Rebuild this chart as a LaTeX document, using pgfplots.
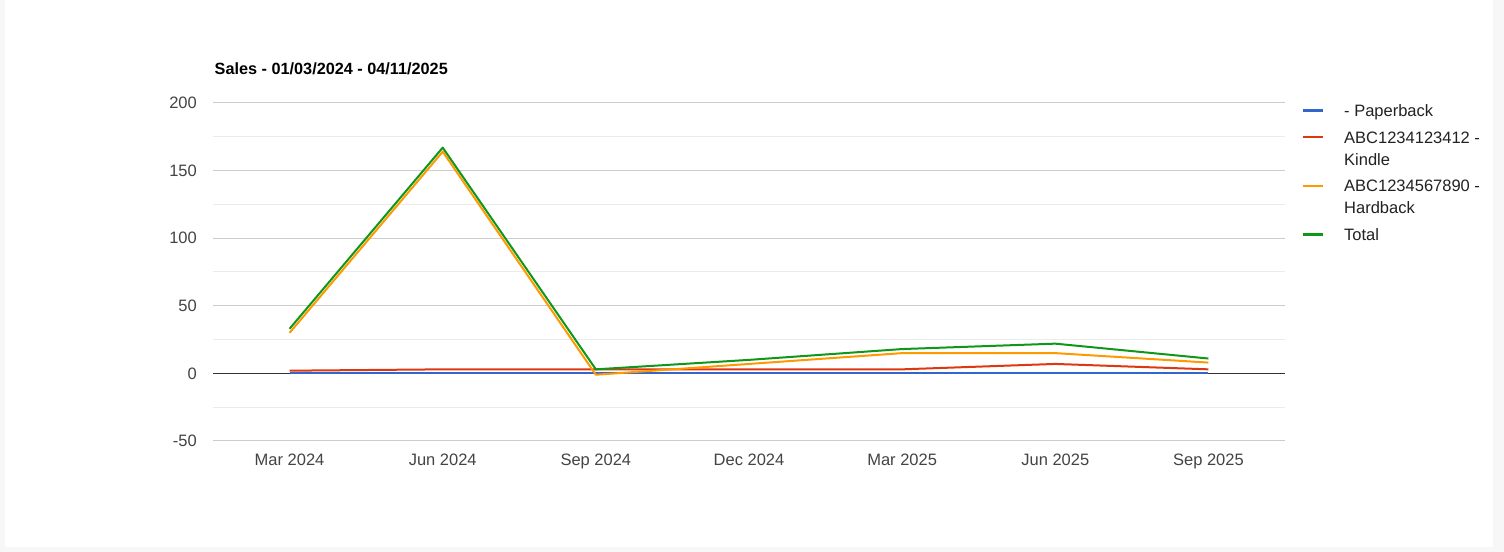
\documentclass[border=0pt]{standalone}
\usepackage{pgfplots}
\pgfplotsset{compat=1.18}
\usepackage{fontspec}
\setmainfont{Liberation Sans}
\definecolor{cblue}{HTML}{3366CC}
\definecolor{cred}{HTML}{DC3912}
\definecolor{corange}{HTML}{FF9900}
\definecolor{cgreen}{HTML}{109618}
\definecolor{gridmajor}{HTML}{CCCCCC}
\definecolor{gridminor}{HTML}{EBEBEB}
\definecolor{zeroline}{HTML}{333333}
\definecolor{ticktext}{HTML}{444444}
\definecolor{legtext}{HTML}{222222}
\definecolor{edge}{HTML}{F7F7F7}
\newcommand{\strutO}{\rule{0pt}{15.4bp}}
\newcommand{\strutA}{\rule{0pt}{20.5bp}}
\newcommand{\strutB}{\rule{0pt}{25.2bp}}
\begin{document}
\begin{tikzpicture}
\fill[edge] (0,0) rectangle (1504bp,552bp);
\fill[white] (5bp,5bp) rectangle (1493bp,552bp);
\begin{axis}[
  at={(213bp,111bp)}, anchor=south west,
  scale only axis, width=1072bp, height=338bp,
  xmin=-0.5, xmax=6.5, ymin=-50, ymax=200,
  xtick={0,1,2,3,4,5,6},
  xticklabels={Mar 2024,Jun 2024,Sep 2024,Dec 2024,Mar 2025,Jun 2025,Sep 2025},
  ytick={-50,0,50,100,150,200},
  yticklabels={-50,0,50,100,150,200},
  minor ytick={-25,25,75,125,175},
  ymajorgrids, yminorgrids,
  major grid style={color=gridmajor, line width=1bp},
  minor grid style={color=gridminor, line width=1bp},
  axis line style={draw=none},
  tick style={draw=none},
  ticklabel style={font=\fontsize{16.5bp}{20bp}\selectfont, text=ticktext, inner sep=0pt},
  yticklabel style={anchor=east, xshift=-16bp},
  xticklabel style={anchor=base, yshift=-25bp},
  title={Sales - 01/03/2024 - 04/11/2025},
  title style={at={(0.0014,1.0672)}, anchor=base west, inner sep=0pt,
    font=\bfseries\fontsize{16.25bp}{20bp}\selectfont},
  legend image code/.code={\draw[#1, line width=2.2bp] (0bp,6bp) -- (20bp,6bp);},
  legend style={at={(1.01586,1.0056)}, anchor=north west, draw=none, fill=none,
    inner sep=0pt, outer sep=0pt, column sep=20bp, row sep=0pt,
    cells={anchor=base west},
    nodes={inner sep=0pt, text=legtext, font=\fontsize{16.5bp}{22bp}\selectfont}},
  every axis plot/.append style={line width=2bp, line join=round},
]
\addplot[zeroline, line width=1bp, forget plot] coordinates {(-0.5,0) (6.5,0)};
\addplot[cblue] coordinates {(0,0) (1,0) (2,0) (3,0) (4,0) (5,0) (6,0)};
\addlegendentry{\strutO- Paperback}
\addplot[cred] coordinates {(0,2) (1,3) (2,3) (3,3) (4,3) (5,7) (6,3)};
\addlegendentry{\strutB ABC1234123412 -}
\addlegendimage{empty legend}
\addlegendentry{\strutA Kindle}
\addplot[corange] coordinates {(0,30) (1,164) (2,-1) (3,7) (4,15) (5,15) (6,8)};
\addlegendentry{\strutB ABC1234567890 -}
\addlegendimage{empty legend}
\addlegendentry{\strutA Hardback}
\addplot[cgreen] coordinates {(0,33) (1,167) (2,3) (3,10) (4,18) (5,22) (6,11)};
\addlegendentry{\strutB Total}
\end{axis}
\pgfresetboundingbox
\useasboundingbox (0,0) rectangle (1504bp,552bp);
\end{tikzpicture}
\end{document}
